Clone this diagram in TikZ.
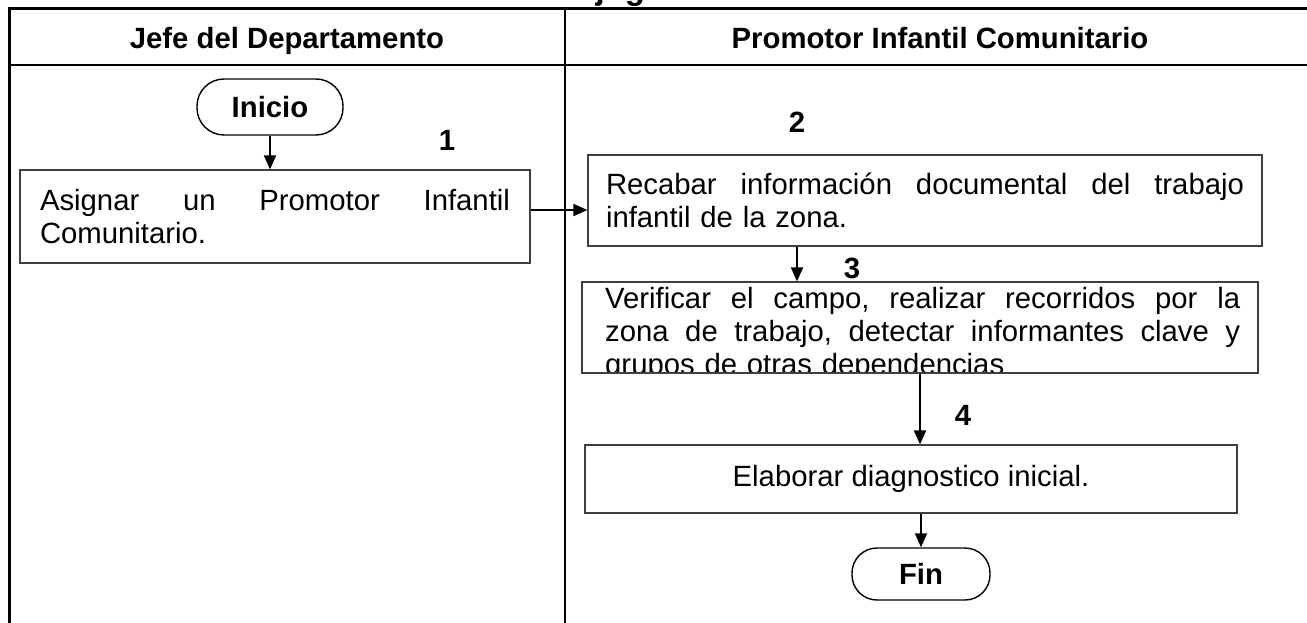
\documentclass[tikz,border=0pt]{standalone}
\usepackage{fontspec}
\setmainfont{Liberation Sans}
\usetikzlibrary{arrows.meta}
\begin{document}
\begin{tikzpicture}[x=1pt,y=-1pt,
  font=\fontsize{29.3}{33}\selectfont,
  stepbox/.style={draw=black!75, line width=1.2pt, inner sep=0pt},
  term/.style={draw=black, line width=1.4pt, rounded corners=27pt, minimum width=146pt, minimum height=56pt, inner sep=0pt, font=\fontsize{29.3}{33}\selectfont\bfseries},
  arr/.style={line width=1.8pt, -{Triangle[length=14pt,width=12pt]}},
  num/.style={font=\fontsize{29.3}{33}\selectfont\bfseries},
  hdr/.style={font=\fontsize{29.3}{33}\selectfont\bfseries, anchor=base},
  lane/.style={line width=2pt},
]
\useasboundingbox (0,0) rectangle (1307,623);
\clip (0,0) rectangle (1307,623);

% cut-off title (only its lower edge shows above the table)
\node[font=\fontsize{33}{36}\selectfont\bfseries, anchor=base, inner sep=0pt] (title) at (635,0) {Flujograma};

% table
\draw[line width=3pt] (9,650) -- (9,9) -- (1330,9);
\draw[line width=2.5pt] (9,65) -- (1330,65);
\draw[lane] (565,9) -- (565,650);
\node[hdr] (h1) at (287,49) {Jefe del Departamento};
\node[hdr] (h2) at (940,49) {Promotor Infantil Comunitario};

% left lane
\node[term] (ini) at (270,107) {Inicio};
\node[num] (n1) at (447,140) {1};
\node[stepbox, minimum width=510pt, minimum height=93pt, text width=470pt, align=left] (b1) at (275,216.5)
  {Asignar\hfill un\hfill Promotor\hfill Infantil\\Comunitario.};

% right lane
\node[num] (n2) at (797,122) {2};
\node[stepbox, minimum width=674pt, minimum height=91pt, text width=638pt, align=left] (b2) at (925,200.5)
  {Recabar\hfill información\hfill documental\hfill del\hfill trabajo\\infantil de la zona.};

\node[num] (n3) at (852,268) {3};
\begin{scope}
  \clip (582,282) rectangle (1258,373);
  \node[anchor=north west, inner sep=0pt, text width=635pt, align=left] (t3) at (605,287)
    {Verificar\hfill el\hfill campo,\hfill realizar\hfill recorridos\hfill por\hfill la\\zona\hfill de\hfill trabajo,\hfill detectar\hfill informantes\hfill clave\hfill y\\grupos de otras dependencias};
\end{scope}
\node[stepbox, minimum width=676pt, minimum height=91pt] (b3) at (920,327.5) {};

\node[num] (n4) at (963,415) {4};
\node[stepbox, minimum width=652pt, minimum height=68pt] (b4) at (911,479) {Elaborar diagnostico inicial.};

\node[term, minimum width=138pt, minimum height=52pt, rounded corners=25pt] (fin) at (921,574) {Fin};

% connectors
\draw[arr] (ini.south) -- (ini.south |- b1.north);
\coordinate (y12) at (0,210);
\draw[arr] (b1.east |- y12) -- (b2.west |- y12);
\coordinate (x23) at (797,0);
\draw[arr] (x23 |- b2.south) -- (x23 |- b3.north);
\coordinate (x34) at (920,0);
\draw[arr] (x34 |- b3.south) -- (x34 |- b4.north);
\draw[arr] (fin.north |- b4.south) -- (fin.north);
\end{tikzpicture}
\end{document}
